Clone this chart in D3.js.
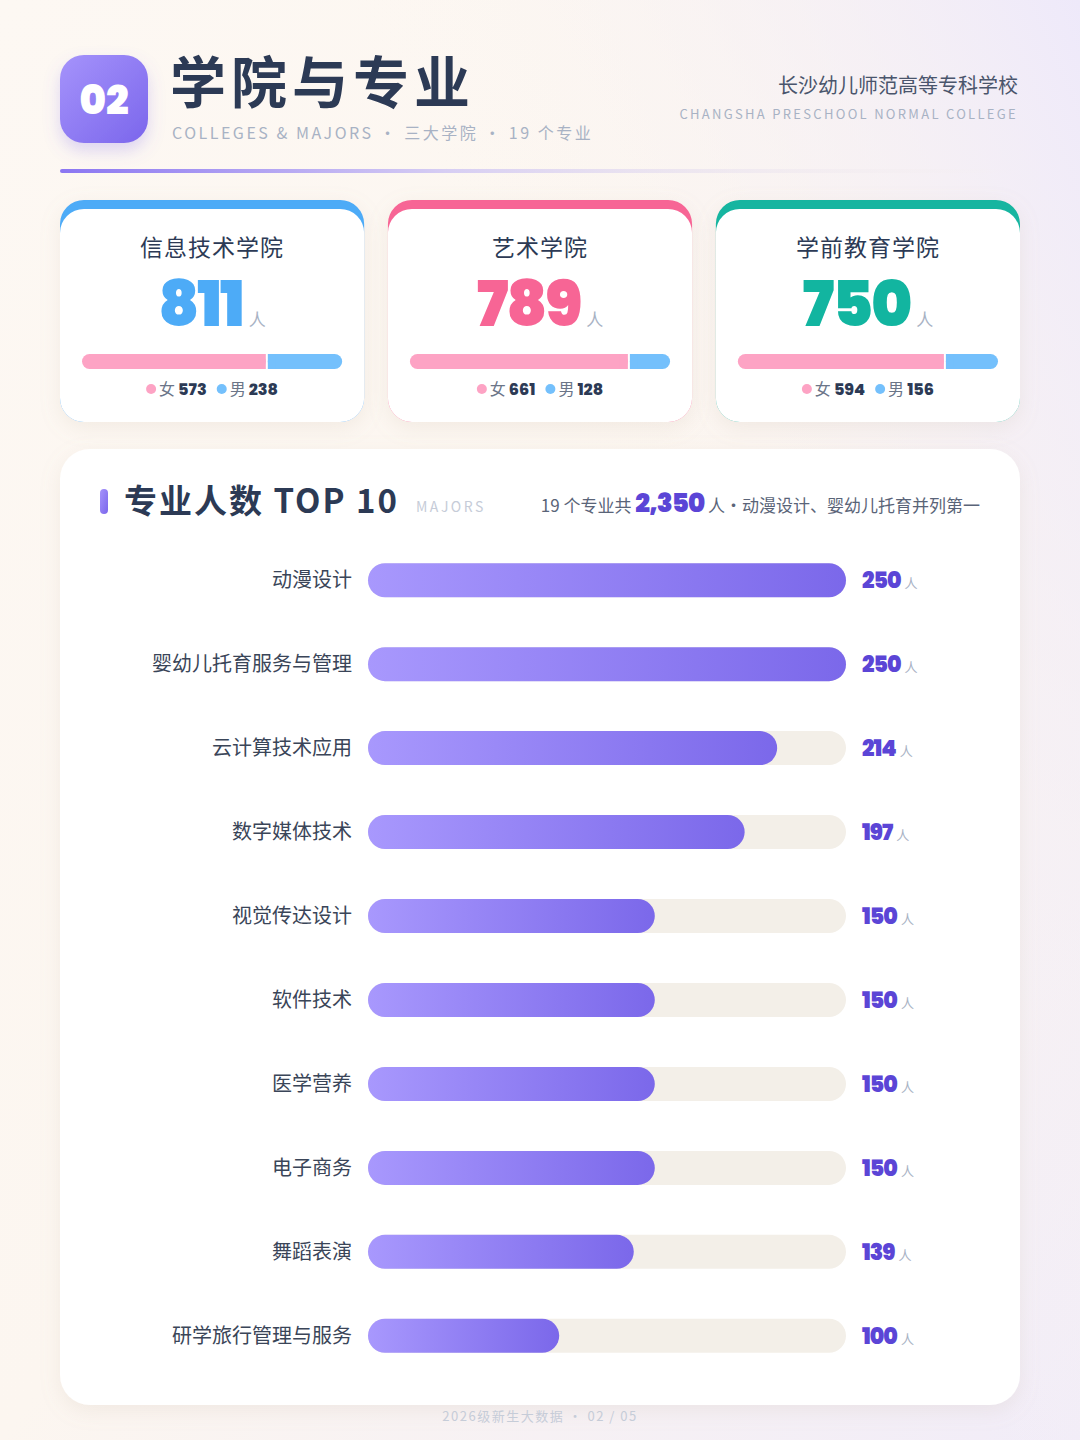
<!DOCTYPE html>
<html><head><meta charset="utf-8">
<script src="https://cdn.jsdelivr.net/npm/d3@7"></script>
<style>html,body{margin:0;padding:0;width:1080px;height:1440px;overflow:hidden}</style>
</head><body><svg id="c" width="1080" height="1440"></svg>
<script>
const colleges = ["信息技术学院","艺术学院","学前教育学院"];
const collegeTotals = [811,789,750];
const female = [573,661,594];
const male = [238,128,156];
const collegeColors = ["#4dabf7","#f76595","#12b5a0"];
const majors = ["动漫设计","婴幼儿托育服务与管理","云计算技术应用","数字媒体技术","视觉传达设计","软件技术","医学营养","电子商务","舞蹈表演","研学旅行管理与服务"];
const majorCounts = [250,250,214,197,150,150,150,150,139,100];

const svg = d3.select("#c");
const defs = svg.append("defs");
const bg = defs.append("linearGradient").attr("id","bg").attr("x1",0).attr("y1",0).attr("x2",1).attr("y2",1);
bg.append("stop").attr("offset",0).attr("stop-color","#fdf8f3");
bg.append("stop").attr("offset",0.5).attr("stop-color","#fcf6f0");
bg.append("stop").attr("offset",1).attr("stop-color","#f1ecf8");
const bg2 = defs.append("linearGradient").attr("id","bg2").attr("x1",1).attr("y1",0).attr("x2",0.5).attr("y2",0.3);
bg2.append("stop").attr("offset",0).attr("stop-color","#eee9fa");
bg2.append("stop").attr("offset",1).attr("stop-color","#fcf6f0").attr("stop-opacity",0);
const pg = defs.append("linearGradient").attr("id","pg").attr("x1",0).attr("y1",0).attr("x2",1).attr("y2",1);
pg.append("stop").attr("offset",0).attr("stop-color","#a593fb");
pg.append("stop").attr("offset",1).attr("stop-color","#7b66ec");
const lg = defs.append("linearGradient").attr("id","lg");
lg.append("stop").attr("offset",0).attr("stop-color","#8b76f2");
lg.append("stop").attr("offset",0.4).attr("stop-color","#d6cdf3");
lg.append("stop").attr("offset",1).attr("stop-color","#f5efe9").attr("stop-opacity",0);
const bgG = defs.append("linearGradient").attr("id","barg");
bgG.append("stop").attr("offset",0).attr("stop-color","#a898fd");
bgG.append("stop").attr("offset",1).attr("stop-color","#7b68ea");
const sh = defs.append("filter").attr("id","sh").attr("x","-20%").attr("y","-20%").attr("width","140%").attr("height","150%");
sh.append("feDropShadow").attr("dx",0).attr("dy",6).attr("stdDeviation",10).attr("flood-color","#b9a48c").attr("flood-opacity",0.15);
const sh2 = defs.append("filter").attr("id","sh2").attr("x","-40%").attr("y","-40%").attr("width","180%").attr("height","200%");
sh2.append("feDropShadow").attr("dx",0).attr("dy",8).attr("stdDeviation",8).attr("flood-color","#7b66ec").attr("flood-opacity",0.25);

svg.append("rect").attr("width",1080).attr("height",1440).attr("fill","url(#bg)");
svg.append("rect").attr("width",1080).attr("height",1440).attr("fill","url(#bg2)");

const F = "'Noto Sans CJK SC','Noto Sans',sans-serif";
const N = "Poppins,'Lato','Roboto',sans-serif";

// header
svg.append("rect").attr("x",60).attr("y",55).attr("width",88).attr("height",88).attr("rx",24).attr("fill","url(#pg)").attr("filter","url(#sh2)");
svg.append("text").attr("x",104).attr("y",114).attr("text-anchor","middle").attr("font-family",N).attr("font-weight",900).attr("font-size",40).attr("fill","#fff").text("02");
svg.append("text").attr("x",170).attr("y",103).attr("font-family",F).attr("font-weight",700).attr("font-size",56).attr("fill","#2c3a55").attr("letter-spacing",5).text("学院与专业");
svg.append("text").attr("x",172).attr("y",139).attr("font-family",F).attr("font-size",16).attr("fill","#a8b2c4").attr("letter-spacing",2.5).text("COLLEGES & MAJORS · 三大学院 · 19 个专业");
svg.append("text").attr("x",1018).attr("y",93).attr("text-anchor","end").attr("font-family",F).attr("font-size",20).attr("fill","#4a556c").text("长沙幼儿师范高等专科学校");
svg.append("text").attr("x",1018).attr("y",119).attr("text-anchor","end").attr("font-family",F).attr("font-size",13).attr("fill","#a8b2c4").attr("letter-spacing",2.3).text("CHANGSHA PRESCHOOL NORMAL COLLEGE");
svg.append("rect").attr("x",60).attr("y",169).attr("width",960).attr("height",4).attr("rx",2).attr("fill","url(#lg)");

// cards
const cx = d3.scaleBand().domain(colleges).range([60,1020]).paddingInner(0.0725);
colleges.forEach((c,i)=>{
  const x = cx(c), w = cx.bandwidth(), y=200, h=222;
  const g = svg.append("g");
  g.append("rect").attr("x",x).attr("y",y).attr("width",w).attr("height",h).attr("rx",24).attr("fill",collegeColors[i]).attr("filter","url(#sh)");
  g.append("rect").attr("x",x).attr("y",y+9).attr("width",w).attr("height",h-9).attr("rx",24).attr("fill","#fff");
  const mid = x+w/2;
  g.append("text").attr("x",mid).attr("y",256).attr("text-anchor","middle").attr("font-family",F).attr("font-size",23).attr("fill","#2c3a55").attr("letter-spacing",1).text(c);
  const t = g.append("text").attr("x",mid).attr("y",326).attr("text-anchor","middle");
  t.append("tspan").attr("font-family",N).attr("font-weight",900).attr("font-size",62).attr("fill",collegeColors[i]).attr("letter-spacing",-2).text(collegeTotals[i]);
  t.append("tspan").attr("dx",6).attr("font-family",F).attr("font-size",17).attr("fill","#a8b2c4").text("人");
  const gx = d3.scaleLinear().domain([0,collegeTotals[i]]).range([x+22,x+w-22]);
  g.append("rect").attr("x",gx(0)).attr("y",354).attr("width",gx(female[i])-gx(0)).attr("height",15).attr("rx",7.5).attr("fill","#fda3c4");
  g.append("rect").attr("x",gx(female[i])+2).attr("y",354).attr("width",gx(collegeTotals[i])-gx(female[i])-2).attr("height",15).attr("rx",7.5).attr("fill","#74c0fc");
  g.append("rect").attr("x",gx(female[i])-8).attr("y",354).attr("width",8).attr("height",15).attr("fill","#fda3c4");
  g.append("rect").attr("x",gx(female[i])+2).attr("y",354).attr("width",8).attr("height",15).attr("fill","#74c0fc");
  // legend
  const lgG = g.append("g");
  let px = 0;
  const items = [["#fda3c4","女",female[i]],["#74c0fc","男",male[i]]];
  items.forEach((it,k)=>{
    if(k) px += 10;
    lgG.append("circle").attr("cx",px+5).attr("cy",389).attr("r",5).attr("fill",it[0]);
    px += 13;
    const t1 = lgG.append("text").attr("x",px).attr("y",395).attr("font-family",F).attr("font-size",16).attr("fill","#6b7588").text(it[1]);
    px += t1.node().getComputedTextLength()+3;
    const t2 = lgG.append("text").attr("x",px).attr("y",395).attr("font-family",N).attr("font-weight",800).attr("font-size",16).attr("fill","#2c3a55").text(it[2]);
    px += t2.node().getComputedTextLength();
  });
  lgG.attr("transform",`translate(${mid-px/2},0)`);
});

// main panel
svg.append("rect").attr("x",60).attr("y",449).attr("width",960).attr("height",956).attr("rx",30).attr("fill","#fff").attr("filter","url(#sh)");
svg.append("rect").attr("x",100).attr("y",489).attr("width",8).attr("height",25).attr("rx",4).attr("fill","url(#pg)");
svg.append("text").attr("x",124).attr("y",513).attr("font-family",F).attr("font-weight",700).attr("font-size",33).attr("fill","#2c3a55").attr("letter-spacing",2).text("专业人数 TOP 10");
svg.append("text").attr("x",416).attr("y",512).attr("font-family",F).attr("font-size",14).attr("fill","#c6ccd8").attr("letter-spacing",2.5).text("MAJORS");
const st = svg.append("text").attr("x",980).attr("y",512).attr("text-anchor","end").attr("font-family",F).attr("font-size",17).attr("fill","#5a6478");
st.append("tspan").text("19 个专业共 ");
st.append("tspan").attr("font-family",N).attr("font-weight",900).attr("font-size",26).attr("fill","#5b45d6").attr("letter-spacing",-1).text("2,350");
st.append("tspan").text(" 人·动漫设计、婴幼儿托育并列第一");

const y = d3.scaleBand().domain(majors).range([538,1378]).paddingInner(0.595).paddingOuter(0.3);
const x = d3.scaleLinear().domain([0,250]).range([368,846]);
const bh = 34;
majors.forEach((m,i)=>{
  const cy = y(m)+y.bandwidth()/2;
  svg.append("rect").attr("x",x(0)).attr("y",cy-bh/2).attr("width",x(250)-x(0)).attr("height",bh).attr("rx",bh/2).attr("fill","#f3efe8");
  svg.append("rect").attr("x",x(0)).attr("y",cy-bh/2).attr("width",x(majorCounts[i])-x(0)).attr("height",bh).attr("rx",bh/2).attr("fill","url(#barg)");
  svg.append("text").attr("x",352).attr("y",cy+7).attr("text-anchor","end").attr("font-family",F).attr("font-size",20).attr("fill","#3a4558").text(m);
  const v = svg.append("text").attr("x",862).attr("y",cy+8);
  v.append("tspan").attr("font-family",N).attr("font-weight",900).attr("font-size",22).attr("fill","#5b45d6").attr("letter-spacing",-1).text(majorCounts[i]);
  v.append("tspan").attr("dx",4).attr("font-family",F).attr("font-size",13).attr("fill","#a8b2c4").text("人");
});
svg.append("text").attr("x",540).attr("y",1421).attr("text-anchor","middle").attr("font-family",F).attr("font-size",13).attr("fill","#c6ccd8").attr("letter-spacing",1.5).text("2026级新生大数据 · 02 / 05");
</script></body></html>
